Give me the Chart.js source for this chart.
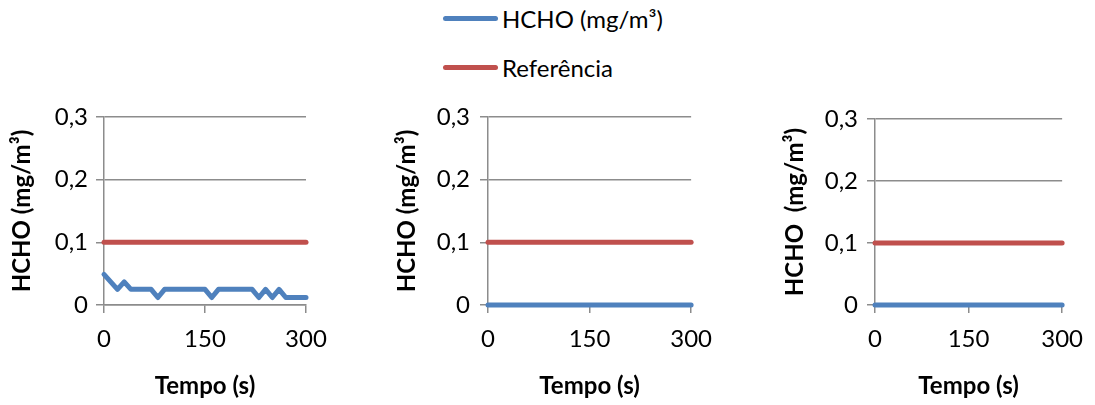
<!DOCTYPE html>
<html><head><meta charset="utf-8">
<script src="https://cdn.jsdelivr.net/npm/chart.js@4/dist/chart.umd.min.js"></script>
<style>
body{margin:0;width:1095px;height:405px;background:#fff;position:relative;overflow:hidden;font-family:Lato,sans-serif}
canvas{position:absolute}
.leg{position:absolute;left:443px;font-size:24px;line-height:29px;color:#000;display:flex;align-items:center;white-space:nowrap}
.leg i{display:inline-block;width:55px;height:5px;border-radius:3px;margin-right:4px}
</style></head><body>
<div class="leg" style="top:4px"><i style="background:#4F81BD"></i><span id="l1"></span></div>
<div class="leg" style="top:53px"><i style="background:#C0504D"></i><span id="l2"></span></div>
<canvas id="c1" width="340" height="315" style="left:0;top:90px"></canvas>
<canvas id="c2" width="340" height="315" style="left:384px;top:90px"></canvas>
<canvas id="c3" width="324" height="315" style="left:771px;top:90px"></canvas>
<script>
// ---- data ----
const seriesNames = ['HCHO (mg/m³)', 'Referência'];
const times = [0,10,20,30,40,50,60,70,80,90,100,110,120,130,140,150,160,170,180,190,200,210,220,230,240,250,260,270,280,290,300];
const hcho1 = [0.049,0.037,0.025,0.037,0.025,0.025,0.025,0.025,0.012,0.025,0.025,0.025,0.025,0.025,0.025,0.025,0.012,0.025,0.025,0.025,0.025,0.025,0.025,0.012,0.025,0.012,0.025,0.012,0.012,0.012,0.012];
const hcho2 = [0,0,0,0,0,0,0,0,0,0,0,0,0,0,0,0,0,0,0,0,0,0,0,0,0,0,0,0,0,0,0];
const hcho3 = [0,0,0,0,0,0,0,0,0,0,0,0,0,0,0,0,0,0,0,0,0,0,0,0,0,0,0,0,0,0,0];
const refTimes = [0,300];
const refValues = [0.1,0.1];
const xTickValues = [0,150,300];
const yTickLabels = ['0','0,1','0,2','0,3'];
const xTitle = 'Tempo (s)';
const yTitles = ['HCHO (mg/m³)','HCHO (mg/m³)','HCHO  (mg/m³)'];

document.getElementById('l1').textContent = seriesNames[0];
document.getElementById('l2').textContent = seriesNames[1];

const BLUE = '#4F81BD', RED = '#C0504D', GRID = '#8c8c8c';
const FONT = 'Lato';

function pts(xs, ys){ return xs.map((x,i)=>({x:x, y:ys[i]})); }

function make(id, values, yTitle, g){
  new Chart(document.getElementById(id), {
    type:'line',
    data:{datasets:[
      {label:seriesNames[1], data:pts(refTimes, refValues), borderColor:RED, borderWidth:5, pointRadius:0, borderCapStyle:'round', clip:false, order:2},
      {label:seriesNames[0], data:pts(times, values), borderColor:BLUE, borderWidth:5, pointRadius:0, borderCapStyle:'round', borderJoinStyle:'round', tension:0, clip:false, order:1}
    ]},
    options:{
      responsive:false, animation:false, devicePixelRatio:1,
      layout:{padding:{top:g.top, right:g.right, left:0, bottom:0}},
      plugins:{legend:{display:false}, tooltip:{enabled:false}},
      scales:{
        x:{type:'linear', min:0, max:300,
          afterBuildTicks:(s)=>{ s.ticks = xTickValues.map(v=>({value:v})); },
          afterFit:(s)=>{ s.height = 100; },
          grid:{drawOnChartArea:false, drawTicks:true, tickLength:8, color:GRID, lineWidth:1.5},
          border:{color:GRID, width:1.5},
          ticks:{color:'#000', font:{family:FONT, size:24}, padding:12, maxRotation:0, autoSkip:false},
          title:{display:true, text:xTitle, color:'#000', font:{family:FONT, size:24, weight:'bold'}, padding:{bottom:4}}
        },
        y:{type:'linear', min:0, max:0.3,
          afterBuildTicks:(s)=>{ s.ticks = yTickLabels.map((t,i)=>({value:i*0.1})); },
          afterFit:(s)=>{ s.width = 104; },
          grid:{drawTicks:true, tickLength:8, color:GRID, lineWidth:1.5},
          border:{color:GRID, width:1.5},
          ticks:{color:'#000', font:{family:FONT, size:24}, padding:g.tp, callback:(v,i)=>yTickLabels[i]},
          title:{display:true, text:yTitle, color:'#000', font:{family:FONT, size:24, weight:'bold'}, padding:{top:g.tt}}
        }
      }
    }
  });
}
make('c1', hcho1, yTitles[0], {top:27, right:34, tp:8, tt:8});
make('c2', hcho2, yTitles[1], {top:27, right:31, tp:10, tt:9});
make('c3', hcho3, yTitles[2], {top:29, right:29, tp:9, tt:10});
</script>
</body></html>
